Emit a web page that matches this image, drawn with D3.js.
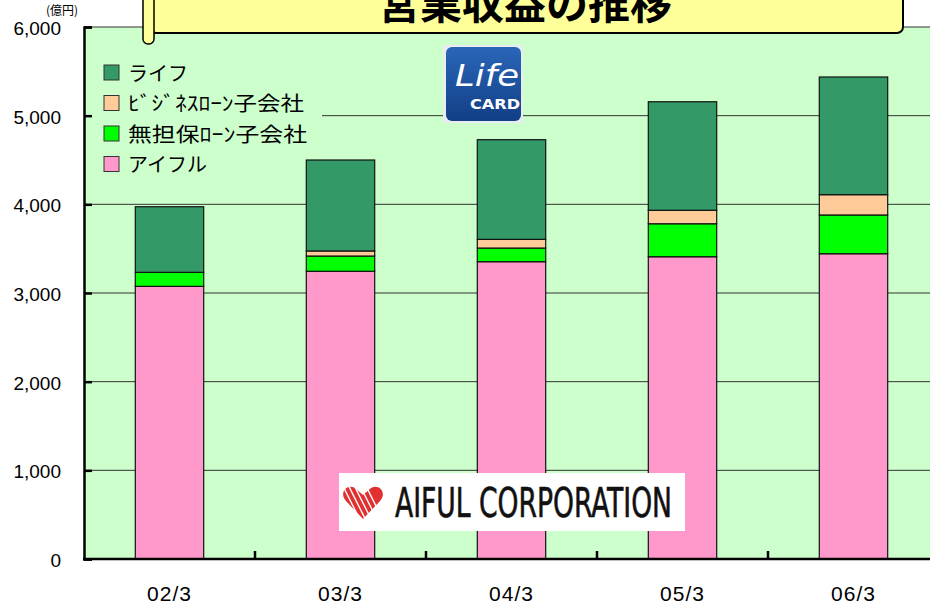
<!DOCTYPE html>
<html>
<head>
<meta charset="utf-8">
<script src="https://cdn.jsdelivr.net/npm/d3@7"></script>
<style>
  body { margin: 0; background: #fff; }
  svg { display: block; }
</style>
</head>
<body>
<svg id="chart" width="930" height="605"></svg>
<script>
// data (億円)
const years = ["02/3", "03/3", "04/3", "05/3", "06/3"];
const aiful = [3075, 3245, 3353, 3409, 3443];
const mutanpo = [158, 172, 154, 372, 437];
const business = [0, 57, 98, 152, 229];
const life = [740, 1026, 1124, 1224, 1327];
const seriesNames = ["アイフル", "無担保ﾛｰﾝ子会社", "ﾋﾞｼﾞﾈｽﾛｰﾝ子会社", "ライフ"];
const seriesColors = ["#ff99cc", "#00ff00", "#ffcc99", "#339966"];
const yTicks = [0, 1000, 2000, 3000, 4000, 5000, 6000];

const svg = d3.select("#chart");
const plotLeft = 84, plotRight = 939, plotTop = 27, plotBottom = 559;

const rows = years.map((y, i) => ({
    year: y,
    "アイフル": aiful[i],
    "無担保ﾛｰﾝ子会社": mutanpo[i],
    "ﾋﾞｼﾞﾈｽﾛｰﾝ子会社": business[i],
    "ライフ": life[i]
}));
const stacked = d3.stack().keys(seriesNames)(rows);

const x = d3.scaleBand().domain(years).range([plotLeft, plotRight])
    .paddingInner(0.6).paddingOuter(0.3);
const y = d3.scaleLinear().domain([0, 6000]).range([plotBottom, plotTop]);

// plot background
svg.append("rect")
    .attr("x", plotLeft).attr("y", plotTop)
    .attr("width", plotRight - plotLeft).attr("height", plotBottom - plotTop)
    .attr("fill", "#ccffcc");

// gridlines
svg.append("g")
    .selectAll("line")
    .data(yTicks.filter(d => d > 0))
    .join("line")
    .attr("x1", plotLeft).attr("x2", plotRight)
    .attr("y1", d => y(d)).attr("y2", d => y(d))
    .attr("stroke", "#333").attr("stroke-width", 1);

// legend background hides gridlines
svg.append("rect")
    .attr("x", plotLeft + 1).attr("y", 55)
    .attr("width", 237).attr("height", 125)
    .attr("fill", "#ccffcc");

// bars
svg.append("g")
    .selectAll("g")
    .data(stacked)
    .join("g")
    .attr("fill", (d, i) => seriesColors[i])
    .selectAll("rect")
    .data(d => d.filter(p => p[1] - p[0] > 0))
    .join("rect")
    .attr("x", d => x(d.data.year))
    .attr("width", x.bandwidth())
    .attr("y", d => y(d[1]))
    .attr("height", d => y(d[0]) - y(d[1]))
    .attr("stroke", "#111")
    .attr("stroke-width", 1.2);

// y axis
const yAxis = svg.append("g")
    .attr("transform", `translate(${plotLeft},0)`)
    .call(d3.axisRight(y).tickValues(yTicks).tickSize(8).tickFormat(""));
yAxis.select(".domain").attr("stroke", "#000").attr("stroke-width", 2.5);
yAxis.selectAll(".tick line").attr("stroke", "#000").attr("stroke-width", 2.5);

svg.append("g")
    .selectAll("text")
    .data(yTicks)
    .join("text")
    .attr("x", 61)
    .attr("y", d => y(d) + 8)
    .attr("text-anchor", "end")
    .attr("font-family", "Liberation Sans, Arial, sans-serif")
    .attr("font-size", 19)
    .attr("fill", "#000")
    .text(d => d3.format(",")(d));

// x axis
const step = x.step();
const boundaries = d3.range(years.length).map(i => plotLeft + step * (i + 1));
svg.append("line")
    .attr("x1", plotLeft - 1).attr("x2", 930)
    .attr("y1", plotBottom).attr("y2", plotBottom)
    .attr("stroke", "#000").attr("stroke-width", 2.5);
svg.append("g")
    .selectAll("line")
    .data(boundaries)
    .join("line")
    .attr("x1", d => d).attr("x2", d => d)
    .attr("y1", plotBottom).attr("y2", plotBottom - 8)
    .attr("stroke", "#000").attr("stroke-width", 2.5);

svg.append("g")
    .selectAll("text")
    .data(years)
    .join("text")
    .attr("x", d => x(d) + x.bandwidth() / 2)
    .attr("y", 601)
    .attr("text-anchor", "middle")
    .attr("font-family", "Liberation Sans, Arial, sans-serif")
    .attr("font-size", 21)
    .attr("letter-spacing", 1)
    .attr("fill", "#000")
    .text(d => d);

// unit
svg.append("text")
    .attr("x", 46).attr("y", 15)
    .attr("font-family", "Noto Sans CJK JP, sans-serif")
    .attr("font-size", 12)
    .text("(億円)");

// legend (top entry is ライフ)
const legendOrder = [3, 2, 1, 0];
const legendTextWidth = { "ﾋﾞｼﾞﾈｽﾛｰﾝ子会社": 176, "無担保ﾛｰﾝ子会社": 179 };
const legend = svg.append("g")
    .selectAll("g")
    .data(legendOrder)
    .join("g")
    .attr("transform", (d, i) => `translate(104, ${72.5 + i * 30.5})`);
legend.append("rect")
    .attr("x", 0).attr("y", -7.5)
    .attr("width", 15).attr("height", 15)
    .attr("fill", d => seriesColors[d])
    .attr("stroke", "#333").attr("stroke-width", 1);
legend.append("text")
    .attr("x", 24).attr("y", 8)
    .attr("font-family", "Noto Sans CJK JP, sans-serif")
    .attr("font-size", 20)
    .attr("fill", "#000")
    .each(function (d) {
        const w = legendTextWidth[seriesNames[d]];
        if (w) d3.select(this).attr("textLength", w).attr("lengthAdjust", "spacingAndGlyphs");
    })
    .text(d => seriesNames[d]);

// title banner
svg.append("rect")
    .attr("x", 150).attr("y", -20)
    .attr("width", 753).attr("height", 53)
    .attr("rx", 6)
    .attr("fill", "#ffff99").attr("stroke", "#000").attr("stroke-width", 2);
svg.append("rect")
    .attr("x", 143).attr("y", -20)
    .attr("width", 11).attr("height", 64)
    .attr("rx", 5)
    .attr("fill", "#ffff99").attr("stroke", "#000").attr("stroke-width", 1.5);
svg.append("text")
    .attr("x", 525).attr("y", 19)
    .attr("text-anchor", "middle")
    .attr("font-family", "Noto Sans CJK JP, sans-serif")
    .attr("font-weight", "bold")
    .attr("font-size", 42)
    .attr("fill", "#000")
    .text("営業収益の推移");

// LIFE CARD logo
svg.append("rect")
    .attr("x", 443).attr("y", 45)
    .attr("width", 80).attr("height", 78)
    .attr("fill", "#e8edf2");
const grad = svg.append("defs").append("linearGradient")
    .attr("id", "lifeGrad").attr("x1", 0).attr("y1", 0).attr("x2", 0).attr("y2", 1);
grad.append("stop").attr("offset", "0%").attr("stop-color", "#2a66b8");
grad.append("stop").attr("offset", "100%").attr("stop-color", "#123f86");
svg.append("rect")
    .attr("x", 446).attr("y", 47)
    .attr("width", 75).attr("height", 74)
    .attr("rx", 6)
    .attr("fill", "url(#lifeGrad)");
svg.append("text")
    .attr("x", 487).attr("y", 86)
    .attr("text-anchor", "middle")
    .attr("font-family", "DejaVu Sans, sans-serif")
    .attr("font-style", "italic")
    .attr("font-size", 31)
    .attr("textLength", 64)
    .attr("lengthAdjust", "spacingAndGlyphs")
    .attr("fill", "#fff")
    .text("Life");
svg.append("text")
    .attr("x", 495).attr("y", 109)
    .attr("text-anchor", "middle")
    .attr("font-family", "DejaVu Sans, sans-serif")
    .attr("font-weight", "bold")
    .attr("font-size", 14)
    .attr("textLength", 50)
    .attr("lengthAdjust", "spacingAndGlyphs")
    .attr("fill", "#fff")
    .text("CARD");

// AIFUL CORPORATION logo
svg.append("rect")
    .attr("x", 339).attr("y", 473)
    .attr("width", 346).attr("height", 58)
    .attr("fill", "#fff");
const heart = svg.append("g").attr("transform", "translate(363, 503) scale(1.15)");
heart.append("path")
    .attr("d", "M0,14 L-15,-2 C-21,-9 -14,-17 -7,-13 L0,-7 L7,-13 C14,-17 21,-9 15,-2 Z")
    .attr("fill", "#e03030");
heart.selectAll("line.stripe")
    .data([-10, -5, 0, 5, 10])
    .join("line")
    .attr("x1", d => d - 8).attr("y1", -16)
    .attr("x2", d => d + 8).attr("y2", 16)
    .attr("stroke", "#fff").attr("stroke-width", 1.2);
svg.append("text")
    .attr("x", 395).attr("y", 517)
    .attr("font-family", "DejaVu Sans Condensed, sans-serif")
    .attr("font-size", 40)
    .attr("textLength", 277)
    .attr("lengthAdjust", "spacingAndGlyphs")
    .attr("fill", "#111")
    .attr("stroke", "#111")
    .attr("stroke-width", 0.6)
    .text("AIFUL CORPORATION");
</script>
</body>
</html>
